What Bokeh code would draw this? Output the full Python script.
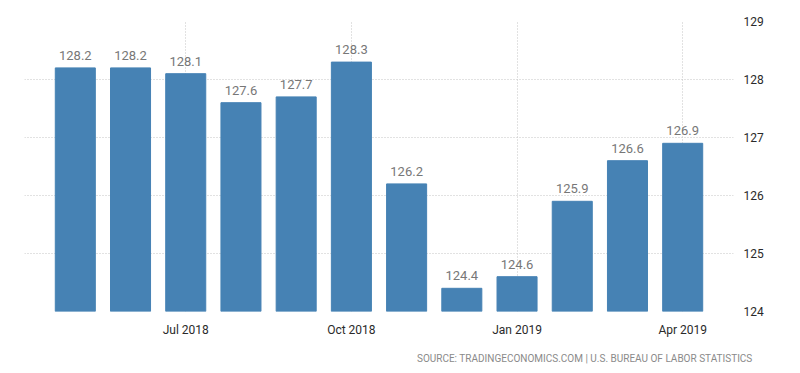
from bokeh.plotting import figure
from bokeh.models import ColumnDataSource, LabelSet, FixedTicker, Range1d, Title
from bokeh.core.properties import value
from bokeh.embed import file_html
from bokeh.resources import INLINE

months = ["May 2018", "Jun 2018", "Jul 2018", "Aug 2018", "Sep 2018", "Oct 2018",
          "Nov 2018", "Dec 2018", "Jan 2019", "Feb 2019", "Mar 2019", "Apr 2019"]
values = [128.2, 128.2, 128.1, 127.6, 127.7, 128.3, 126.2, 124.4, 124.6, 125.9, 126.6, 126.9]
tick_months = ["Jul 2018", "Oct 2018", "Jan 2019", "Apr 2019"]
y_ticks = [124, 125, 126, 127, 128, 129]
source_text = "SOURCE: TRADINGECONOMICS.COM | U.S. BUREAU OF LABOR STATISTICS"

idx = list(range(len(months)))
src = ColumnDataSource(dict(x=idx, top=values, label=[f"{v:.1f}" for v in values]))

p = figure(width=784, height=373, output_backend="svg", toolbar_location=None,
           x_range=Range1d(-0.92, len(months) - 1 + 0.92), y_range=Range1d(124, 129),
           frame_width=709, frame_height=290,
           min_border_left=24, min_border_top=21, min_border_right=10, min_border_bottom=10,
           y_axis_location="right")
p.outline_line_color = None

p.vbar(x="x", top="top", bottom=124, width=0.725, source=src,
       fill_color="#4682b4", line_color="#4682b4")

labels = LabelSet(x="x", y="top", text="label", source=src, y_offset=8,
                  text_align="center", text_baseline="bottom",
                  text_font_size="13px", text_color="#777777", text_font=value("Roboto"))
p.add_layout(labels)

tick_pos = [months.index(m) for m in tick_months]
p.xaxis.ticker = FixedTicker(ticks=tick_pos)
p.xaxis.major_label_overrides = {i: m for i, m in zip(tick_pos, tick_months)}
p.yaxis.ticker = FixedTicker(ticks=y_ticks)

for ax in (p.xaxis, p.yaxis):
    ax.axis_line_color = None
    ax.major_tick_line_color = None
    ax.minor_tick_line_color = None
    ax.major_label_text_font = "Roboto"
    ax.major_label_text_font_size = "12px"
    ax.major_label_text_color = "#2a2a2a"
p.xaxis.major_label_standoff = 5
p.yaxis.major_label_standoff = 4

for g in (p.xgrid, p.ygrid):
    g.grid_line_color = "#c4c4c4"
    g.grid_line_dash = "1 2"
    g.grid_line_width = 1

t = Title(text=source_text, align="right", text_font_size="10px", text_color="#8a8a8a",
          text_font="Roboto", text_font_style="normal", standoff=22, offset=-19)
p.add_layout(t, "below")

open("out.html", "w").write(file_html(p, INLINE))
